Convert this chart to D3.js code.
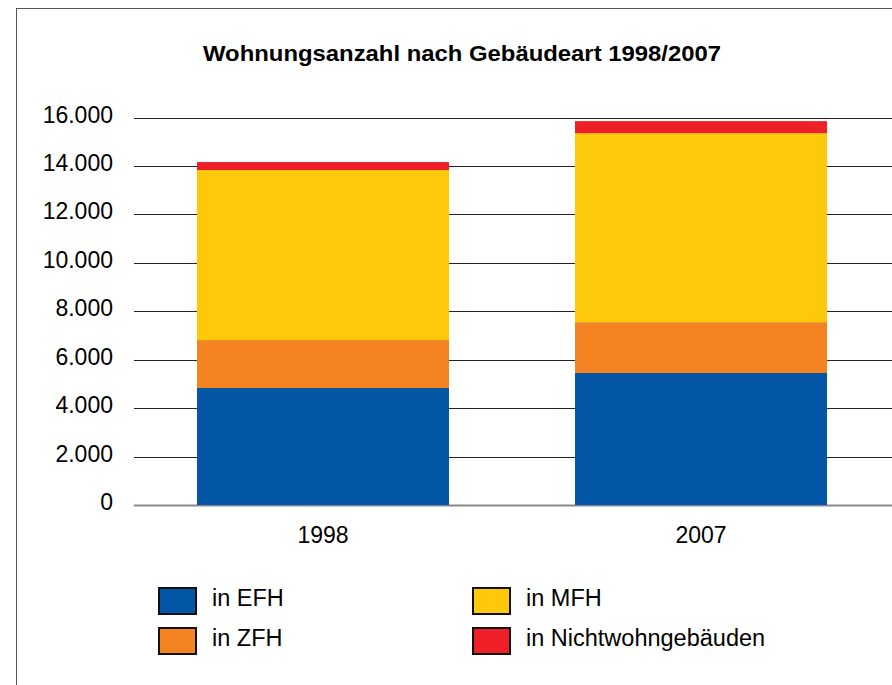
<!DOCTYPE html>
<html>
<head>
<meta charset="utf-8">
<script src="https://cdn.jsdelivr.net/npm/d3@7"></script>
<style>
  body { margin: 0; background: #fff; }
  svg { display: block; font-family: "Liberation Sans", Arial, Helvetica, sans-serif; }
</style>
</head>
<body>
<div id="chart"></div>
<script>
// data
var years = ['1998', '2007'];
var seriesNames = ['in EFH', 'in ZFH', 'in MFH', 'in Nichtwohngebäuden'];
var efh = [4830, 5450];
var zfh = [1980, 2100];
var mfh = [7020, 7800];
var nwg = [330, 500];
var yTicks = [0, 2000, 4000, 6000, 8000, 10000, 12000, 14000, 16000];
var colors = ['#0355a5', '#f48422', '#fec80b', '#ee1f26'];

var width = 892, height = 685;

var svg = d3.select('#chart').append('svg')
    .attr('width', width)
    .attr('height', height);

// frame
svg.append('rect')
    .attr('x', 16.5).attr('y', 8.5)
    .attr('width', width + 10).attr('height', height + 10)
    .attr('fill', 'none')
    .attr('stroke', '#555')
    .attr('stroke-width', 1);

svg.append('text')
    .attr('x', 203)
    .attr('y', 61)
    .attr('textLength', 518)
    .attr('lengthAdjust', 'spacingAndGlyphs')
    .style('font-size', '22px')
    .style('font-weight', 'bold')
    .text('Wohnungsanzahl nach Gebäudeart 1998/2007');

var x = d3.scaleBand()
    .domain(years)
    .range([134, 890])
    .paddingInner(1 / 3)
    .paddingOuter(1 / 6);

var y = d3.scaleLinear()
    .domain([0, 16000])
    .range([505, 117.5]);

// gridlines
svg.append('g').selectAll('line')
    .data(yTicks)
    .enter().append('line')
    .attr('x1', 134)
    .attr('x2', width)
    .attr('y1', d => Math.round(y(d)) + 0.5)
    .attr('y2', d => Math.round(y(d)) + 0.5)
    .attr('stroke', d => d === 0 ? '#888' : '#222')
    .attr('stroke-width', d => d === 0 ? 2 : 1.2);

var fmt = d3.formatLocale({ decimal: ',', thousands: '.', grouping: [3], currency: ['', '€'] }).format(',');

svg.append('g').selectAll('text')
    .data(yTicks)
    .enter().append('text')
    .attr('x', 113)
    .attr('y', d => y(d) + 5)
    .attr('text-anchor', 'end')
    .style('font-size', '23px')
    .text(d => fmt(d));

// stacked bars
var table = years.map((yr, i) => ({
    year: yr, efh: efh[i], zfh: zfh[i], mfh: mfh[i], nwg: nwg[i]
}));
var keys = ['efh', 'zfh', 'mfh', 'nwg'];
var stacked = d3.stack().keys(keys)(table);

svg.append('g').selectAll('g')
    .data(stacked)
    .enter().append('g')
    .attr('fill', (d, i) => colors[i])
    .selectAll('rect')
    .data(d => d)
    .enter().append('rect')
    .attr('x', d => x(d.data.year))
    .attr('width', x.bandwidth())
    .attr('y', d => y(d[1]))
    .attr('height', d => y(d[0]) - y(d[1]));

// x labels
svg.append('g').selectAll('text')
    .data(years)
    .enter().append('text')
    .attr('x', d => x(d) + x.bandwidth() / 2)
    .attr('y', 543)
    .attr('text-anchor', 'middle')
    .style('font-size', '23px')
    .text(d => d);

// legend
var legendPos = [[158, 587], [158, 627], [472, 587], [472, 627]];
var legend = svg.selectAll('.legend')
    .data(seriesNames)
    .enter().append('g')
    .attr('class', 'legend')
    .attr('transform', (d, i) => 'translate(' + legendPos[i][0] + ',' + legendPos[i][1] + ')');

legend.append('rect')
    .attr('x', 1).attr('y', 1)
    .attr('width', 37).attr('height', 26)
    .attr('fill', (d, i) => colors[i])
    .attr('stroke', '#111')
    .attr('stroke-width', 2);

legend.append('text')
    .attr('x', 54)
    .attr('y', 19)
    .style('font-size', '23.5px')
    .text(d => d);
</script>
</body>
</html>
